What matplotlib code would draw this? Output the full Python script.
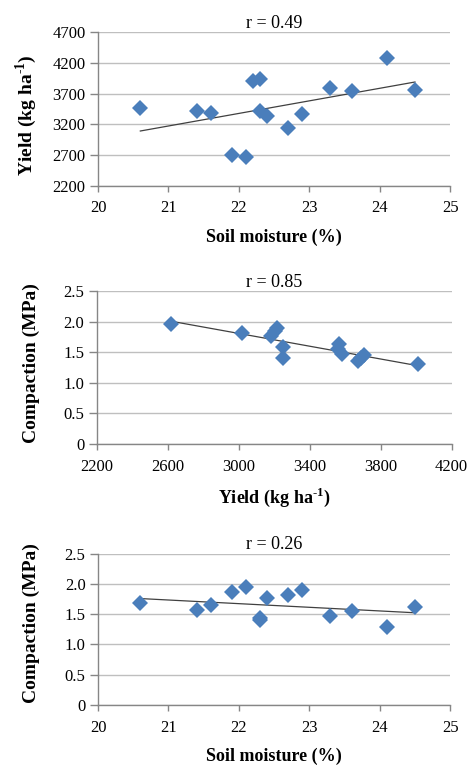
import numpy as np
import matplotlib
matplotlib.use('Agg')
import matplotlib.pyplot as plt

plt.rcParams['font.family'] = ['Liberation Serif', 'DejaVu Serif']
plt.rcParams['mathtext.fontset'] = 'custom'
plt.rcParams['mathtext.rm'] = 'Liberation Serif'
plt.rcParams['mathtext.bf'] = 'Liberation Serif:bold'

# panel 1: soil moisture vs yield
moist1 = [20.6, 21.4, 21.6, 21.9, 22.1, 22.2, 22.3, 22.3, 22.4, 22.7, 22.9, 23.3, 23.6, 24.1, 24.5]
yield1 = [3460, 3420, 3390, 2700, 2670, 3900, 3930, 3410, 3330, 3140, 3370, 3790, 3740, 4280, 3760]

# panel 2: yield vs compaction
yield2 = [2620, 3020, 3180, 3205, 3215, 3252, 3252, 3558, 3567, 3580, 3674, 3687, 3708, 4012]
comp2 = [1.96, 1.82, 1.77, 1.84, 1.89, 1.58, 1.40, 1.55, 1.63, 1.47, 1.35, 1.40, 1.45, 1.30]

# panel 3: soil moisture vs compaction
moist3 = [20.6, 21.4, 21.6, 21.9, 22.1, 22.3, 22.3, 22.4, 22.7, 22.9, 23.3, 23.6, 24.1, 24.5]
comp3 = [1.68, 1.57, 1.65, 1.87, 1.95, 1.40, 1.44, 1.76, 1.81, 1.90, 1.47, 1.55, 1.29, 1.62]

titles = ['r = 0.49', 'r = 0.85', 'r = 0.26']

BLUE = '#4a7ebb'
GRID = '#bfbfbf'
SPINE = '#868686'

YIELD_LABEL = 'Yield (kg ha$^{\\mathbf{\u20101}}$)'


def panel(ax, x, y, title, xlim, xticks, ylim, yticks, yticklabels, xlabel, ylabel,
          xlab_y, ylab_x, ylab_y):
    ax.set_xlim(*xlim)
    ax.set_ylim(*ylim)
    ax.set_xticks(xticks)
    ax.set_yticks(yticks)
    ax.set_yticklabels(yticklabels)
    ax.grid(axis='y', color=GRID, linewidth=1)
    ax.set_axisbelow(True)
    for s in ['top', 'right']:
        ax.spines[s].set_visible(False)
    for s in ['left', 'bottom']:
        ax.spines[s].set_color(SPINE)
        ax.spines[s].set_linewidth(1)
    ax.tick_params(axis='both', colors=SPINE, labelcolor='black', labelsize=12, width=1)
    ax.tick_params(axis='x', length=4.5, pad=6)
    ax.tick_params(axis='y', length=6, pad=3)

    # linear trendline over the data range
    k, b = np.polyfit(x, y, 1)
    xs = np.array([min(x), max(x)])
    ax.plot(xs, k * xs + b, color='#404040', linewidth=0.9, zorder=2)
    ax.plot(x, y, 'D', color=BLUE, markersize=8, markeredgewidth=0, zorder=3)

    ax.set_title(title, fontsize=13, pad=3)
    ax.set_xlabel(xlabel, fontsize=13, fontweight='bold', va='center')
    ax.set_ylabel(ylabel, fontsize=14, fontweight='bold', va='center')
    ax.xaxis.set_label_coords(0.5, xlab_y)
    ax.yaxis.set_label_coords(ylab_x, ylab_y)


fig = plt.figure(figsize=(4.67, 7.65), dpi=100)

ax1 = fig.add_axes([0.21, 0.757, 0.754, 0.201])
panel(ax1, moist1, yield1, titles[0], (20, 25), [20, 21, 22, 23, 24, 25],
      (2200, 4700), [2200, 2700, 3200, 3700, 4200, 4700],
      ['2200', '2700', '3200', '3700', '4200', '4700'],
      'Soil moisture (%)', YIELD_LABEL, -0.335, -0.205, 0.46)

ax2 = fig.add_axes([0.207, 0.4196, 0.760, 0.200])
panel(ax2, yield2, comp2, titles[1], (2200, 4200), [2200, 2600, 3000, 3400, 3800, 4200],
      (0, 2.5), [0, 0.5, 1.0, 1.5, 2.0, 2.5],
      ['0', '0.5', '1.0', '1.5', '2.0', '2.5'],
      YIELD_LABEL, 'Compaction (MPa)', -0.346, -0.185, 0.53)

ax3 = fig.add_axes([0.21, 0.0784, 0.754, 0.198])
panel(ax3, moist3, comp3, titles[2], (20, 25), [20, 21, 22, 23, 24, 25],
      (0, 2.5), [0, 0.5, 1.0, 1.5, 2.0, 2.5],
      ['0', '0.5', '1.0', '1.5', '2.0', '2.5'],
      'Soil moisture (%)', 'Compaction (MPa)', -0.342, -0.19, 0.54)

fig.savefig('out.png', dpi=100)
